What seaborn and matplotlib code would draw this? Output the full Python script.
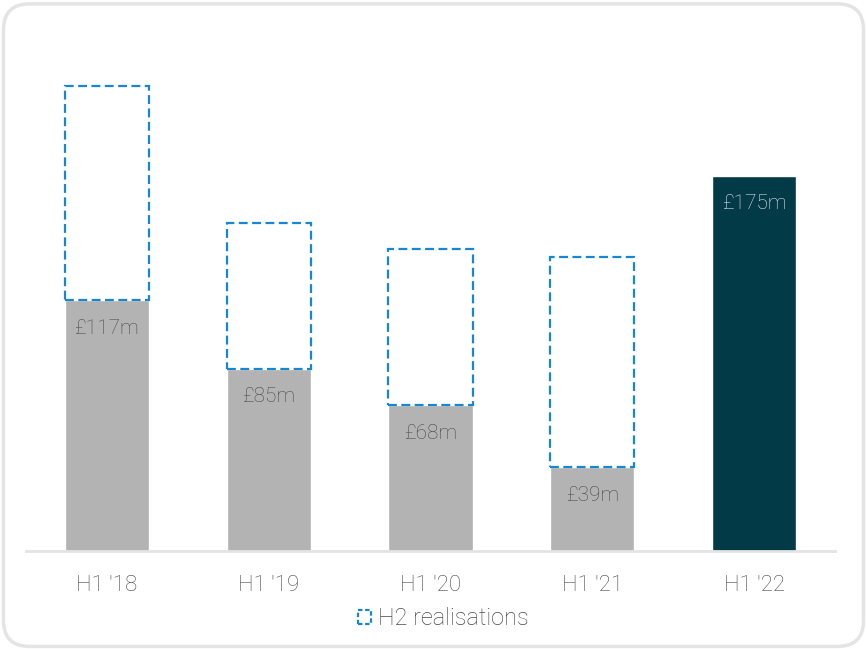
import matplotlib
matplotlib.use("Agg")
import matplotlib.pyplot as plt
from matplotlib.patches import FancyBboxPatch, Patch
import numpy as np
import pandas as pd
import seaborn as sns

# Realisations by half-year (£m)
periods = ["H1 '18", "H1 '19", "H1 '20", "H1 '21", "H1 '22"]
h1_values = [117, 85, 68, 39, 175]
h2_values = [100, 68, 73, 98, np.nan]
bar_colors = ["#b3b3b3", "#b3b3b3", "#b3b3b3", "#b3b3b3", "#023a48"]
label_colors = ["#4a4a4a", "#4a4a4a", "#4a4a4a", "#4a4a4a", "#e4ecef"]

sns.set_theme(style="white")
plt.rcParams["font.family"] = ["Roboto", "DejaVu Sans"]

fig = plt.figure(figsize=(8.67, 6.49), dpi=100)
fig.patch.set_facecolor("white")

# rounded card frame, kept behind the axes
card = FancyBboxPatch((0.004, 0.004), 0.992, 0.99,
                      boxstyle="round,pad=0,rounding_size=0.03",
                      transform=fig.transFigure, facecolor="white",
                      edgecolor="#e4e4e4", linewidth=2.5, zorder=-5,
                      mutation_aspect=867 / 649)
fig.patches.append(card)

ax = fig.add_axes([0.030, 0.151, 0.933, 0.7596])
ax.set_facecolor("none")

df = pd.DataFrame({"period": periods, "h1": h1_values})
sns.barplot(data=df, x="period", y="h1", hue="period", palette=bar_colors,
            width=0.52, legend=False, saturation=1, ax=ax, zorder=2)

# H2 realisations drawn as dashed outlines stacked on H1
x = np.arange(len(periods))
h2 = np.array(h2_values)
mask = ~np.isnan(h2)
ax.bar(x[mask], h2[mask], bottom=np.array(h1_values)[mask], width=0.52,
       fill=False, edgecolor="#1787d1", linewidth=1.6,
       linestyle=(0, (4, 2)), zorder=3)

for i, v in enumerate(h1_values):
    ax.text(i, v - 13, f"£{v}m", ha="center", va="center",
            fontsize=15, fontweight="light", color=label_colors[i], zorder=4)

ax.set_xlim(-0.5, 4.5)
ax.set_ylim(0, 230)
ax.set_xlabel("")
ax.set_ylabel("")
ax.set_yticks([])
for side in ["top", "right", "left"]:
    ax.spines[side].set_visible(False)
ax.spines["bottom"].set_color("#e3e3e3")
ax.spines["bottom"].set_linewidth(2)
ax.tick_params(axis="x", length=0, pad=17, labelsize=16, labelcolor="#4a4a4a")
for t in ax.get_xticklabels():
    t.set_fontweight("light")

handle = Patch(facecolor="none", edgecolor="#1787d1", linewidth=1.6,
               linestyle=(0, (2, 1.2)))
leg = ax.legend([handle], ["H2 realisations"], loc="center",
                bbox_to_anchor=(0.516, -0.137), frameon=False,
                handlelength=0.55, handleheight=0.55, handletextpad=0.3,
                prop={"size": 17, "weight": "light"})
for t in leg.get_texts():
    t.set_color("#4a4a4a")

fig.savefig("out.png", dpi=100, facecolor="white")
